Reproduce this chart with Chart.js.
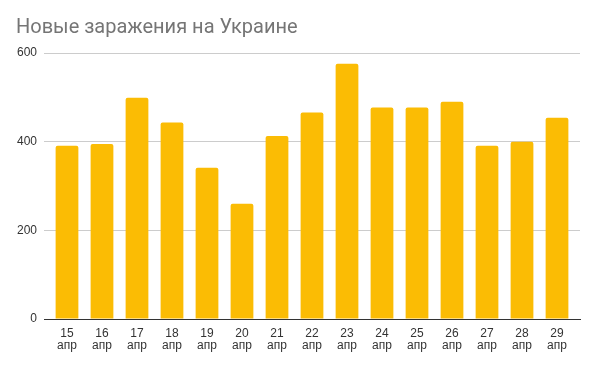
<!DOCTYPE html>
<html>
<head>
<meta charset="utf-8">
<script src="https://cdn.jsdelivr.net/npm/chart.js@4/dist/chart.umd.min.js"></script>
<style>
  html, body { margin: 0; padding: 0; background: #fff; }
  .wrap { width: 594px; height: 365px; position: relative; }
</style>
</head>
<body>
<div class="wrap"><canvas id="c"></canvas></div>
<script>
const DAYS = ['15', '16', '17', '18', '19', '20', '21', '22', '23', '24', '25', '26', '27', '28', '29'];
const MONTH = 'апр';
const CASES = [391, 395, 499, 443, 341, 260, 413, 466, 576, 477, 477, 490, 391, 400, 454];
const Y_TICKS = [0, 200, 400, 600];

const BAR = '#fbbc04';
const GRID = '#cccccc';
const TEXT = '#333333';
// extra inset (in categories) at both ends of the x axis, like Sheets
const X_INSET = 0.157;

new Chart(document.getElementById('c'), {
  type: 'bar',
  data: {
    labels: DAYS.map(d => [d, MONTH]),
    datasets: [{
      data: CASES,
      backgroundColor: BAR,
      borderRadius: { topLeft: 2, topRight: 2 },
      borderSkipped: 'bottom',
      categoryPercentage: 1,
      barPercentage: 0.65
    }]
  },
  options: {
    responsive: true, maintainAspectRatio: false, animation: false,
    layout: { padding: { left: 16, right: 14, top: 12, bottom: 12 } },
    plugins: {
      legend: { display: false },
      tooltip: { enabled: false },
      title: {
        display: true, text: 'Новые заражения на Украине', align: 'start',
        color: '#757575', font: { family: 'Roboto, Arial, sans-serif', size: 20, weight: 'normal' },
        padding: { top: 4, bottom: 13 }
      }
    },
    scales: {
      x: {
        afterBuildTicks: ax => {
          ax._startValue = -0.5 - X_INSET;
          ax._valueRange = DAYS.length + 2 * X_INSET;
        },
        grid: { display: false },
        border: { color: TEXT, width: 1 },
        ticks: { color: TEXT, font: { family: 'Arial, "Liberation Sans", sans-serif', size: 12, lineHeight: 1.0 }, maxRotation: 0, autoSkip: false, padding: 1 }
      },
      y: {
        min: 0, max: 600,
        afterBuildTicks: ax => { ax.ticks = Y_TICKS.map(v => ({ value: v })); },
        afterFit: ax => { ax.width = 28; },
        grid: { color: (c) => c.tick && c.tick.value === 0 ? TEXT : GRID, drawTicks: false },
        border: { display: false },
        ticks: { color: TEXT, font: { family: 'Arial, "Liberation Sans", sans-serif', size: 12 }, padding: 7 }
      }
    }
  }
});
</script>
</body>
</html>
